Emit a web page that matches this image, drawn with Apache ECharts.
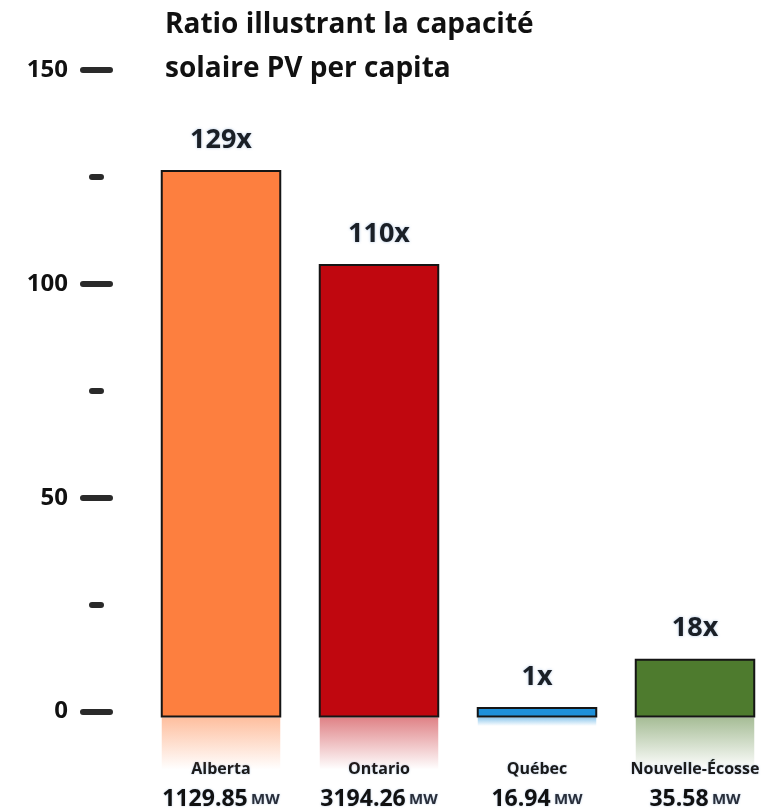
<!DOCTYPE html>
<html>
<head>
<meta charset="utf-8">
<script src="https://cdn.jsdelivr.net/npm/echarts@6/dist/echarts.min.js"></script>
<style>html,body{margin:0;padding:0;background:#fff;}#c{width:774px;height:811px;}</style>
</head>
<body>
<div id="c"></div>
<script>
const categories = ['Alberta', 'Ontario', 'Québec', 'Nouvelle-Écosse'];
const capacityMW = ['1129.85', '3194.26', '16.94', '35.58'];
const ratioValues = [126.4, 104.4, 0.8, 12.1];
const ratioLabels = ['129x', '110x', '1x', '18x'];
const yLabelTicks = [0, 50, 100, 150];
const titleLines = ['Ratio illustrant la capacité', 'solaire PV per capita'];

const colors = ['#FD7F3F', '#C0070F', '#1E90DA', '#4E7B2E'];
const FONT = '"Open Sans", Lato, sans-serif';
const BASE = -1.17;

function rgba(hex, a) {
  const n = parseInt(hex.slice(1), 16);
  return 'rgba(' + ((n >> 16) & 255) + ',' + ((n >> 8) & 255) + ',' + (n & 255) + ',' + a + ')';
}

const chart = echarts.init(document.getElementById('c'));

function renderItem(params, api) {
  const i = api.value(0);
  const v = api.value(1);
  const top = api.coord([i, v]);
  const base = api.coord([i, BASE]);
  const bw = api.size([1, 0])[0] * 0.75;
  const x = top[0] - bw / 2;
  const h = base[1] - top[1];
  const color = colors[i];
  const rh = Math.min(h, 52);
  return {
    type: 'group',
    children: [
      {
        type: 'rect',
        shape: { x: x, y: base[1] + 1, width: bw, height: rh },
        style: {
          fill: new echarts.graphic.LinearGradient(0, 0, 0, 1, [
            { offset: 0, color: rgba(color, 0.5) },
            { offset: 1, color: rgba(color, 0) }
          ])
        }
      },
      {
        type: 'rect',
        shape: { x: x, y: top[1], width: bw, height: h },
        style: { fill: color, stroke: '#151515', lineWidth: 2 }
      },
      {
        type: 'text',
        x: top[0],
        y: top[1] - 31,
        style: {
          text: ratioLabels[i],
          fill: '#1a1f26',
          font: 'bold 27px ' + FONT,
          align: 'center',
          verticalAlign: 'middle',
          textShadowColor: 'rgba(110,150,200,0.55)',
          textShadowBlur: 3
        }
      }
    ]
  };
}

chart.setOption({
  animation: false,
  backgroundColor: '#fff',
  graphic: titleLines.map(function (t, k) {
    return {
      type: 'text',
      left: 165,
      top: 11 + k * 44,
      style: {
        text: t,
        fill: '#111',
        font: 'bold 28px ' + FONT
      }
    };
  }),
  grid: { left: 142, top: 70, bottom: 99, width: 635 },
  xAxis: {
    type: 'category',
    data: categories,
    axisLine: { show: false },
    axisTick: { show: false },
    splitLine: { show: false },
    axisLabel: {
      interval: 0,
      margin: 44,
      formatter: function (val, idx) {
        return '{a|' + val + '}\n{b|' + capacityMW[idx] + '} {c|MW}';
      },
      rich: {
        a: { fontFamily: FONT, fontWeight: 'bold', fontSize: 16, lineHeight: 28, color: '#1a1a1a',
             textShadowColor: 'rgba(110,150,200,0.5)', textShadowBlur: 2 },
        b: { fontFamily: FONT, fontWeight: 'bold', fontSize: 23, lineHeight: 32, color: '#111',
             textShadowColor: 'rgba(110,150,200,0.5)', textShadowBlur: 2 },
        c: { fontFamily: FONT, fontWeight: 'bold', fontSize: 15, lineHeight: 32, color: '#2a2f3a',
             textShadowColor: 'rgba(110,150,200,0.5)', textShadowBlur: 2 }
      }
    }
  },
  yAxis: [
    {
      type: 'value',
      min: 0,
      max: 150,
      interval: 50,
      offset: 32,
      axisLine: { show: false },
      splitLine: { show: false },
      axisTick: { show: true, length: 27, lineStyle: { color: '#2a2a2a', width: 6, cap: 'round' } },
      axisLabel: {
        margin: 42,
        fontFamily: FONT,
        fontWeight: 'bold',
        fontSize: 24,
        color: '#111',
        formatter: function (v) { return yLabelTicks.indexOf(v) >= 0 ? String(v) : ''; }
      }
    },
    {
      type: 'value',
      position: 'left',
      min: 0,
      max: 150,
      interval: 25,
      offset: 41,
      axisLine: { show: false },
      splitLine: { show: false },
      axisLabel: { show: false },
      axisTick: { show: true, length: 9, lineStyle: { color: '#2a2a2a', width: 6, cap: 'round' } }
    }
  ],
  series: [
    {
      type: 'custom',
      renderItem: renderItem,
      clip: false,
      encode: { x: 0, y: 1 },
      data: ratioValues.map(function (v, i) { return [i, v]; })
    }
  ]
});
</script>
</body>
</html>
